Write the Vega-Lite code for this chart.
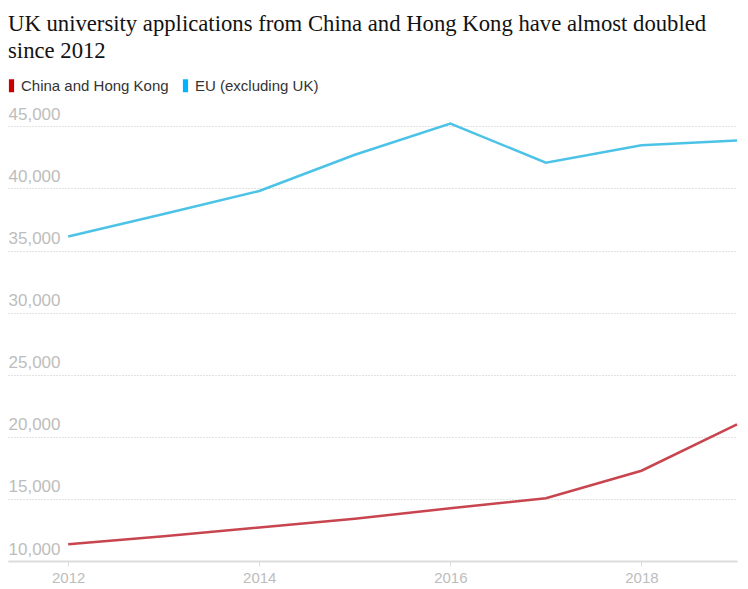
{
  "$schema": "https://vega.github.io/schema/vega-lite/v6.json",
  "autosize": {"type": "none"},
  "padding": {"left": 8, "top": 114, "right": 10, "bottom": 28},
  "width": 729,
  "height": 447,
  "background": "white",
  "title": {
    "text": ["UK university applications from China and Hong Kong have almost doubled", "since 2012"],
    "anchor": "start",
    "frame": "group",
    "font": "Liberation Serif",
    "fontSize": 22.7,
    "fontWeight": "normal",
    "color": "#121212",
    "lineHeight": 27,
    "baseline": "alphabetic",
    "offset": 0,
    "dy": 3
  },
  "config": {
    "view": {"stroke": null},
    "font": "Liberation Sans"
  },
  "data": {
    "values": [
      {"year": 2012, "series": "China and Hong Kong", "value": 11340},
      {"year": 2013, "series": "China and Hong Kong", "value": 12000},
      {"year": 2014, "series": "China and Hong Kong", "value": 12700},
      {"year": 2015, "series": "China and Hong Kong", "value": 13400},
      {"year": 2016, "series": "China and Hong Kong", "value": 14250},
      {"year": 2017, "series": "China and Hong Kong", "value": 15050},
      {"year": 2018, "series": "China and Hong Kong", "value": 17270},
      {"year": 2019, "series": "China and Hong Kong", "value": 21000},
      {"year": 2012, "series": "EU (excluding UK)", "value": 36140},
      {"year": 2013, "series": "EU (excluding UK)", "value": 37950},
      {"year": 2014, "series": "EU (excluding UK)", "value": 39800},
      {"year": 2015, "series": "EU (excluding UK)", "value": 42720},
      {"year": 2016, "series": "EU (excluding UK)", "value": 45220},
      {"year": 2017, "series": "EU (excluding UK)", "value": 42080},
      {"year": 2018, "series": "EU (excluding UK)", "value": 43490},
      {"year": 2019, "series": "EU (excluding UK)", "value": 43860}
    ]
  },
  "mark": {"type": "line", "strokeWidth": 2.5, "interpolate": "linear"},
  "encoding": {
    "x": {
      "field": "year",
      "type": "quantitative",
      "scale": {"domain": [2011.37, 2019], "nice": false, "zero": false},
      "axis": {
        "title": null,
        "values": [2012, 2014, 2016, 2018],
        "format": "d",
        "grid": false,
        "domain": true,
        "domainColor": "#dcdcdc",
        "domainWidth": 2,
        "ticks": true,
        "tickColor": "#dcdcdc",
        "tickSize": 5,
        "tickWidth": 1,
        "labelColor": "#bdbdbd",
        "labelFont": "Liberation Sans",
        "labelFontSize": 15,
        "labelPadding": 4
      }
    },
    "y": {
      "field": "value",
      "type": "quantitative",
      "scale": {"domain": [10000, 46000], "nice": false, "zero": false},
      "axis": {
        "title": null,
        "values": [10000, 15000, 20000, 25000, 30000, 35000, 40000, 45000],
        "format": ",d",
        "domain": false,
        "ticks": false,
        "grid": true,
        "gridColor": "#c4c4c4",
        "gridDash": [1, 2],
        "gridWidth": 1,
        "labelAlign": "left",
        "labelBaseline": "bottom",
        "labelOffset": -3,
        "labelColor": "#bdbdbd",
        "labelFont": "Liberation Sans",
        "labelFontSize": 17,
        "labelPadding": 0
      }
    },
    "color": {
      "field": "series",
      "type": "nominal",
      "scale": {"domain": ["China and Hong Kong", "EU (excluding UK)"], "range": ["#c8454f", "#4cc3e6"]},
      "legend": {
        "title": null,
        "orient": "none",
        "legendX": 0,
        "legendY": -36,
        "direction": "horizontal",
        "symbolType": "M-0.4,-1L0.4,-1L0.4,1L-0.4,1Z",
        "symbolSize": 169,
        "symbolStrokeWidth": 0,
        "labelFont": "Liberation Sans",
        "labelFontSize": 15,
        "labelColor": "#333333",
        "labelOffset": 2,
        "columnPadding": 13,
        "symbolOffset": -4,
        "encode": {
          "symbols": {
            "update": {
              "fill": {"signal": "datum.value === 'China and Hong Kong' ? '#c70000' : '#00b2ff'"},
              "stroke": {"value": "transparent"},
              "opacity": {"value": 1}
            }
          }
        }
      }
    }
  }
}
